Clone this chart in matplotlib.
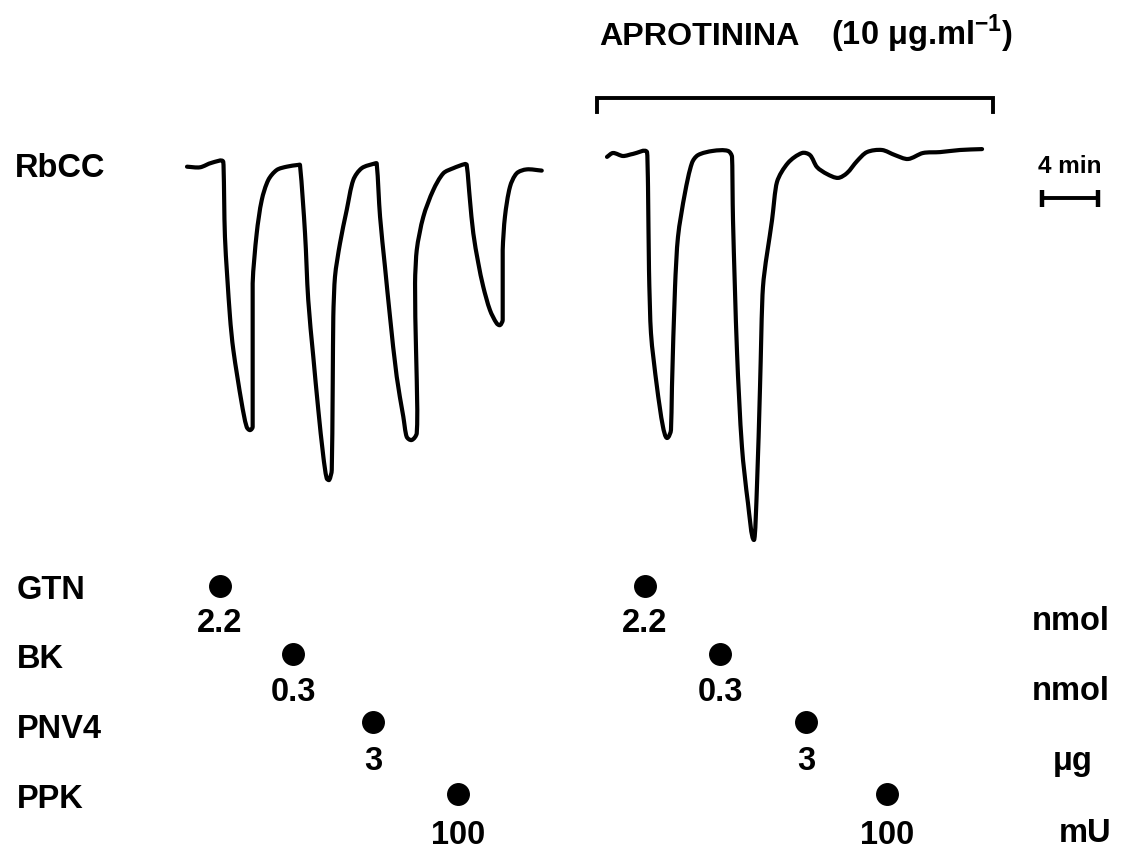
import numpy as np
import matplotlib
matplotlib.use("Agg")
import matplotlib.pyplot as plt
from matplotlib.transforms import Affine2D
from matplotlib.path import Path
from matplotlib.patches import PathPatch

plt.rcParams["font.family"] = ["Liberation Sans", "DejaVu Sans"]
plt.rcParams["font.weight"] = "bold"
plt.rcParams["mathtext.fontset"] = "custom"
plt.rcParams["mathtext.rm"] = "Liberation Sans:bold"
plt.rcParams["mathtext.bf"] = "Liberation Sans:bold"

# ---- recorded perfusion-pressure traces (time in min, deflection in mm) ----
control_t = [0.0, 0.93, 1.76, 2.59, 2.71, 3.07, 3.31, 3.91, 4.26, 4.5, 4.69, 4.69,
             4.69, 4.98, 5.34, 5.81, 6.41, 7.12, 7.95,
             8.07, 8.43, 8.66, 9.02, 9.38, 9.74, 9.98, 10.16, 10.34, 10.41, 10.45,
             10.57, 10.93, 11.41, 11.88, 12.48, 13.43,
             13.55, 13.79, 14.14, 14.5, 14.98, 15.45, 15.69, 16.05, 16.41, 16.45,
             16.36, 16.29, 16.41, 16.88, 17.59, 18.31, 19.02, 19.86,
             19.98, 20.21, 20.45, 20.81, 21.16, 21.64, 22.12, 22.36, 22.55, 22.55,
             22.55, 22.71, 23.07, 23.55, 24.26, 25.34]
control_r = [0.1, -0.1, 1.4, 1.7, -23.2, -49.9, -61.0, -78.8, -86.6, -87.7, -86.6, -61.0,
             -38.8, -22.1, -11.0, -4.3, -1.0, 0.1, 0.7,
             0.7, -22.1, -44.3, -63.2, -81.0, -96.6, -103.8, -104.3, -101.0, -72.1, -49.9,
             -36.6, -25.4, -14.3, -4.3, -0.4, 1.2,
             1.2, -16.6, -33.2, -49.9, -69.9, -83.2, -89.9, -91.0, -88.8, -81.0,
             -61.0, -38.8, -27.7, -16.6, -7.7, -2.1, -0.4, 1.0,
             0.7, -11.0, -22.1, -32.1, -39.9, -47.7, -52.1, -52.7, -51.0, -38.8,
             -27.7, -16.6, -6.6, -2.1, -0.8, -1.2]

aprotinin_t = [0.0, 0.43, 1.14, 1.86, 2.86, 2.93, 3.0, 3.14, 3.57, 4.0, 4.29, 4.57,
               4.64, 4.86, 5.07, 5.57, 6.07, 6.5, 7.57, 8.64,
               8.93, 9.0, 9.29, 9.64, 10.07, 10.5, 10.71, 10.93, 11.14, 11.79, 12.14,
               12.93, 13.93, 14.5, 15.0, 15.71, 16.5, 17.14, 17.86, 18.57, 19.64,
               20.57, 21.5, 22.57, 23.79, 25.21, 26.79]
aprotinin_r = [-1.3, 0.0, -1.0, -0.3, 0.3, -11.3, -39.0, -60.0, -78.0, -91.3, -95.0, -92.3,
               -78.0, -44.7, -28.0, -13.3, -3.3, -0.7, 0.7, 0.7,
               -1.3, -22.3, -66.7, -98.0, -116.7, -129.0, -111.3, -78.0, -44.7, -22.3, -9.7,
               -3.3, 0.0, -0.7, -4.7, -7.0, -8.3, -6.7, -2.7, 0.3, 1.0,
               -0.7, -2.0, 0.0, 0.3, 1.0, 1.3]

# aprotinin exposure window (min, on the second trace's clock)
aprotinin_window = [-0.7, 27.6]

# ---- agonists, doses and injection times ----
agonists = ["GTN", "BK", "PNV4", "PPK"]
doses = ["2.2", "0.3", "3", "100"]
dose_units = ["nmol", "nmol", "\u03bcg", "mU"]
control_inject_t = [2.36, 7.57, 13.29, 19.36]
aprotinin_inject_t = [2.71, 8.07, 14.21, 20.0]

scale_bar_min = 4

# ---- page layout (pixel units) ----
W, H = 1124, 851
PX_PER_MIN = 14.0
PX_PER_MM = 3.0
control_origin = (187, 167)
aprotinin_origin = (607, 153)
label_base_y = [599, 668, 738, 808]
dot_y = [586, 654, 722, 794]
value_base_y = [632, 701, 770, 844]
unit_x = [1071, 1071, 1073, 1085]
unit_base_y = [630, 700, 770, 842]

fig = plt.figure(figsize=(W / 100, H / 100), dpi=100)
ax = fig.add_axes([0, 0, 1, 1])
ax.set_xlim(0, W)
ax.set_ylim(H, 0)
ax.axis("off")


def trace_transform(origin):
    return Affine2D().scale(PX_PER_MIN, -PX_PER_MM).translate(*origin) + ax.transData


def to_px(origin, t):
    return origin[0] + PX_PER_MIN * np.asarray(t)


def smooth_path(t, r, handle=0.3):
    """Cubic Bezier path through every recorded point (pen-recorder look)."""
    p = np.column_stack([t, r]).astype(float)
    metric = np.array([PX_PER_MIN, PX_PER_MM])
    q = p * metric
    n = len(q)
    tang = np.zeros_like(q)
    for i in range(n):
        a = q[max(i - 1, 0)]
        b = q[min(i + 1, n - 1)]
        # flat tangent at the bottom / top of a deflection
        if 0 < i < n - 1 and (q[i, 1] - a[1]) * (q[i, 1] - b[1]) > 0 \
                and abs(q[i, 1] - a[1]) > 6 and abs(q[i, 1] - b[1]) > 6:
            d = np.array([b[0] - a[0], 0.0])
        else:
            d = b - a
        norm = np.hypot(*d)
        tang[i] = d / norm if norm > 0 else 0
    verts = [p[0]]
    codes = [Path.MOVETO]
    for i in range(n - 1):
        delta = q[i + 1] - q[i]
        seg = np.hypot(*delta)
        dx = abs(delta[0])
        lens = []
        for tg in (tang[i], tang[i + 1]):
            L = handle * seg
            if abs(tg[0]) > 1e-9:
                L = min(L, 0.45 * dx / abs(tg[0]))
            lens.append(L)
        c1 = (q[i] + tang[i] * lens[0]) / metric
        c2 = (q[i + 1] - tang[i + 1] * lens[1]) / metric
        verts += [c1, c2, p[i + 1]]
        codes += [Path.CURVE4] * 3
    return Path(np.array(verts), codes)


for (tt, rr, origin) in ((control_t, control_r, control_origin),
                         (aprotinin_t, aprotinin_r, aprotinin_origin)):
    ax.add_patch(PathPatch(smooth_path(tt, rr), facecolor="none", edgecolor="black",
                           lw=3.0, joinstyle="round", capstyle="round",
                           transform=trace_transform(origin)))

FS = 23.5
ax.text(15, 177, "RbCC", fontsize=FS, fontweight="bold", ha="left", va="baseline")

# aprotinin bracket and title
bx0, bx1 = to_px(aprotinin_origin, aprotinin_window)
ax.plot([bx0, bx0, bx1, bx1], [112, 98, 98, 112], color="black", lw=2.8,
        solid_joinstyle="miter")
ax.text(599, 45, "APROTININA", fontsize=23.2, fontweight="bold", ha="left", va="baseline")
ax.text(1013, 45, "(10 \u03bcg.ml$^{\\mathrm{-1}}$)",
        fontsize=23.5, fontweight="bold", ha="right", va="baseline")

# time scale bar
sx0 = 1042
sx1 = sx0 + PX_PER_MIN * scale_bar_min
ax.plot([sx0, sx1], [198, 198], color="black", lw=2.8, solid_capstyle="butt")
ax.plot([sx0, sx0], [190, 207], color="black", lw=3.2, solid_capstyle="butt")
ax.plot([sx1, sx1], [190, 207], color="black", lw=3.2, solid_capstyle="butt")
ax.text((sx0 + sx1) / 2, 173, f"{scale_bar_min} min", fontsize=17.5, fontweight="bold",
        ha="center", va="baseline")

# injection markers
for i, name in enumerate(agonists):
    ax.text(17, label_base_y[i], name, fontsize=FS, fontweight="bold", ha="left", va="baseline")
    for origin, times in ((control_origin, control_inject_t),
                          (aprotinin_origin, aprotinin_inject_t)):
        x = to_px(origin, times[i])
        ax.plot([x], [dot_y[i]], "o", color="black", ms=15.5)
        ax.text(x, value_base_y[i], doses[i], fontsize=FS, fontweight="bold",
                ha="center", va="baseline")
    ax.text(unit_x[i], unit_base_y[i], dose_units[i], fontsize=FS, fontweight="bold",
            ha="center", va="baseline")

fig.savefig("out.png", dpi=100, facecolor="white")
